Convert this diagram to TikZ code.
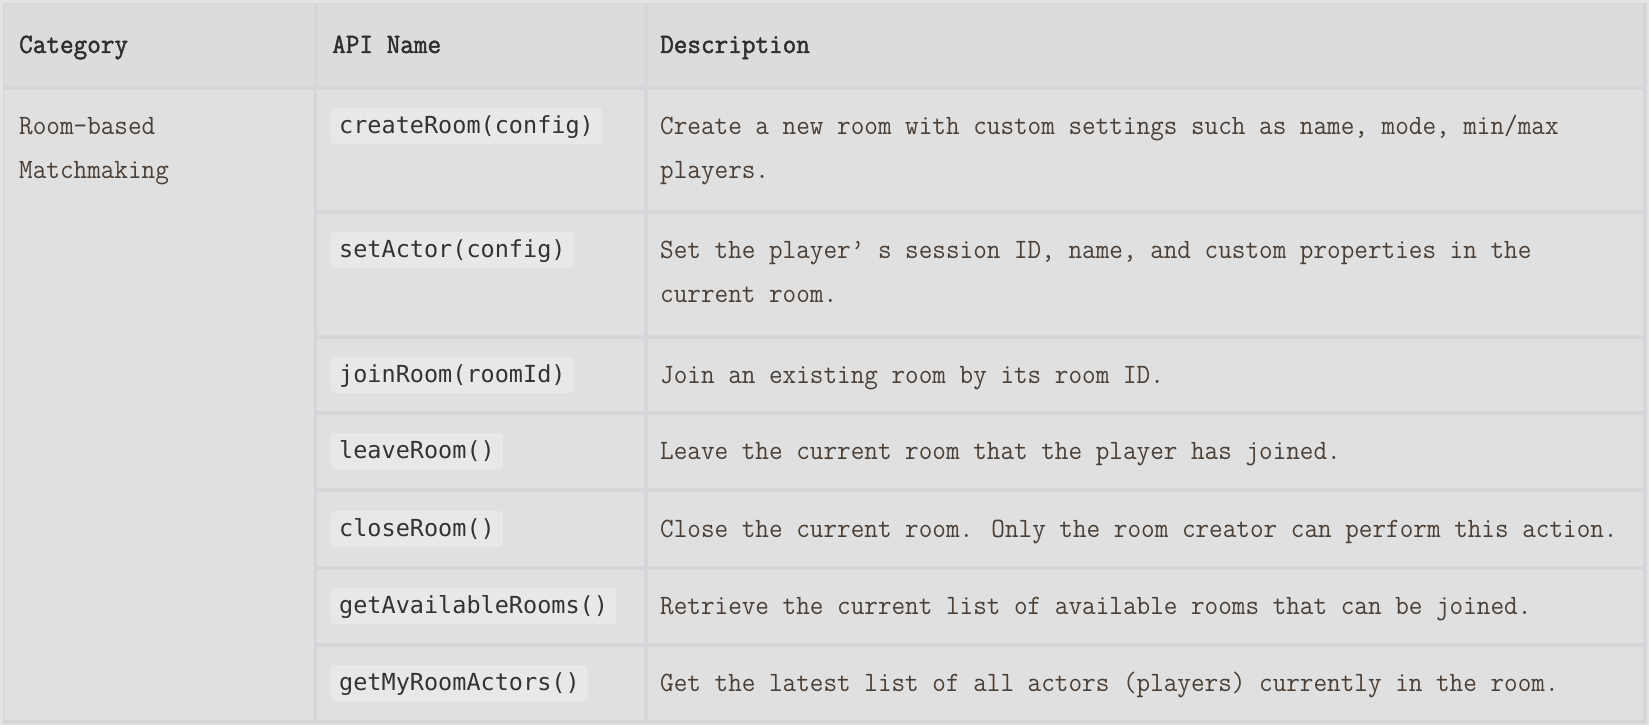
\documentclass[tikz,border=0pt]{standalone}
\usepackage{fontspec}
\usepackage{tikz}
\newfontfamily\codefont{DejaVu Sans Mono}
\newfontfamily\descfont[FakeStretch=0.944]{Latin Modern Mono}
\newfontfamily\headfont[FakeStretch=0.944,FakeBold=1.6]{Latin Modern Mono}
\definecolor{outc}{HTML}{E4E4E4}
\definecolor{gridc}{HTML}{D5D6DA}
\definecolor{cellc}{HTML}{E0E0E0}
\definecolor{headc}{HTML}{DCDCDC}
\definecolor{codebg}{HTML}{E7E8E7}
\definecolor{bodyc}{HTML}{4A4038}
\definecolor{headtxt}{HTML}{2E2E2E}
\colorlet{codetxt}{black!80}

\begin{document}
\begin{tikzpicture}[
            x=1pt, y=-1pt,
            txt/.style={anchor=west, inner sep=0pt, text height=16pt, text depth=0pt,
                font=\fontsize{28}{44}\selectfont\descfont, text=bodyc},
            head/.style={txt, text=headtxt, font=\fontsize{28}{44}\selectfont\headfont},
            code/.style={anchor=west, inner xsep=8pt, inner ysep=0pt, text height=14pt,
                text depth=0pt, minimum height=36pt, rounded corners=3pt, fill=codebg,
                text=codetxt, font=\fontsize{23.5}{28}\selectfont\codefont}
        ]
            \useasboundingbox (0,0) rectangle (1649,725);
            \fill [outc] (0,0) rectangle (1649,725);
            \fill [gridc] (3,3) rectangle (1647,724);

            % header
            \fill [headc] (4,4) rectangle (314,86) (317,4) rectangle (644,86) (648,4) rectangle (1643,86);
            \node [head] (hcat) at (19,45) {Category};
            \node [head] (hapi) at (332,45) {API Name};
            \node [head] (hdesc) at (660,45) {Description};

            % rows
            \fill [cellc] (4,90) rectangle (314,720);
            \foreach \t/\b in {90/210, 214/335, 339/411, 415/488, 492/566, 570/643, 647/720} {
                \fill [cellc] (317,\t) rectangle (644,\b) (648,\t) rectangle (1643,\b);
            }

            \node [txt] (cat1) at (19,126) {Room-based};
            \node [txt] (cat2) at (19,170) {Matchmaking};

            \foreach \y/\api/\desc [count=\i] in {
                126/{createRoom(config)}/{Create a new room with custom settings such as name, mode, min/max},
                250/{setActor(config)}/{Set the player’ s session ID, name, and custom properties in the},
                375/{joinRoom(roomId)}/{Join an existing room by its room ID.},
                451/{leaveRoom()}/{Leave the current room that the player has joined.},
                529/{closeRoom()}/{Close the current room. Only the room creator can perform this action.},
                606/{getAvailableRooms()}/{Retrieve the current list of available rooms that can be joined.},
                683/{getMyRoomActors()}/{Get the latest list of all actors (players) currently in the room.}} {
                \node [code] (api\i) at (331,\y) {\api};
                \node [txt] (desc\i) at (660,\y) {\desc};
            }
            \node [txt] (desc1b) at (660,170) {players.};
            \node [txt] (desc2b) at (660,294) {current room.};
        \end{tikzpicture}
\end{document}
